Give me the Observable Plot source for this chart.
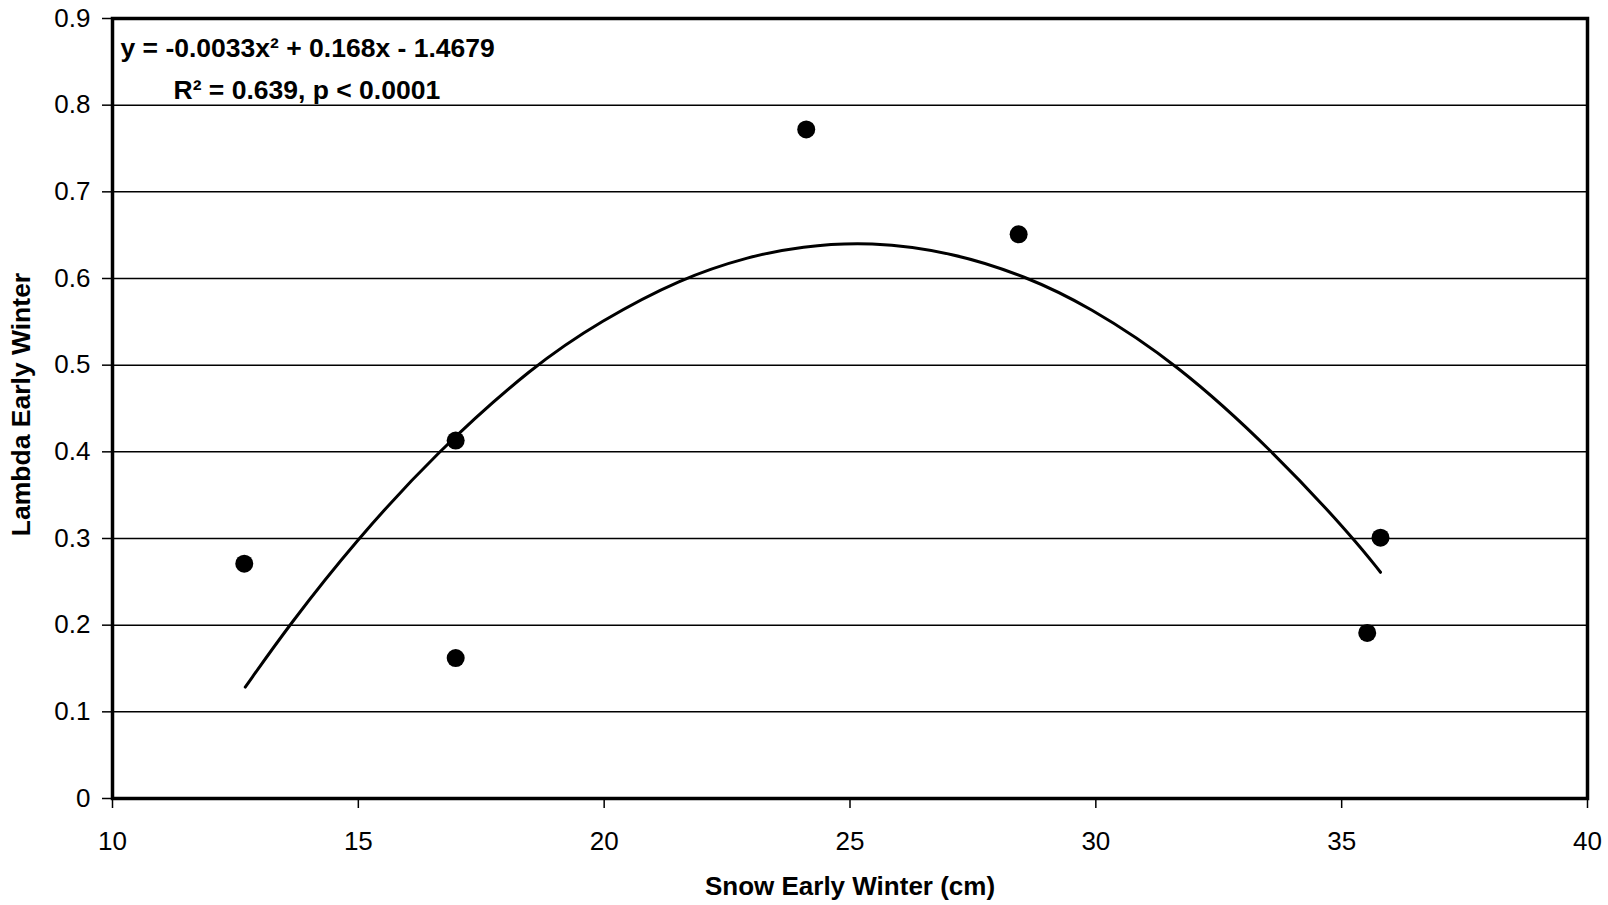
<!DOCTYPE html>
<html>
<head>
<meta charset="utf-8">
<script src="https://cdn.jsdelivr.net/npm/d3@7"></script>
<script src="https://cdn.jsdelivr.net/npm/@observablehq/plot@0.6"></script>
<style>
  html, body { margin: 0; padding: 0; background: #fff; }
  #chart { width: 1608px; height: 905px; }
</style>
</head>
<body>
<div id="chart"></div>
<script>
// Observed points
const snow = [12.68, 16.98, 16.98, 24.11, 28.43, 35.52, 35.79];
const lambda = [0.271, 0.162, 0.413, 0.772, 0.651, 0.191, 0.301];

// Trend line
const trendX = [12.70, 13.59, 14.94, 16.60, 18.57, 19.93, 21.55, 22.98, 23.99, 25.40, 27.11, 28.60, 29.82, 31.65, 33.62, 35.25, 35.79];
const trendY = [0.1285, 0.200, 0.297, 0.400, 0.500, 0.551, 0.600, 0.626, 0.637, 0.643, 0.630, 0.602, 0.569, 0.502, 0.400, 0.300, 0.261];

// Axes
const xTicks = [10, 15, 20, 25, 30, 35, 40];
const yTicks = [0, 0.1, 0.2, 0.3, 0.4, 0.5, 0.6, 0.7, 0.8, 0.9];
const yGrid = [0.1, 0.2, 0.3, 0.4, 0.5, 0.6, 0.7, 0.8];

// Texts
const xTitle = "Snow Early Winter (cm)";
const yTitle = "Lambda Early Winter";
const eqLine1 = "y = -0.0033x² + 0.168x - 1.4679";
const eqLine2 = "R² = 0.639, p < 0.0001";

const points = snow.map((s, i) => ({x: s, y: lambda[i]}));
const trend = trendX.map((s, i) => ({x: s, y: trendY[i]}));

const font = "Arial, 'Liberation Sans', sans-serif";

const chart = Plot.plot({
  width: 1608,
  height: 905,
  marginTop: 18,
  marginRight: 21,
  marginBottom: 107,
  marginLeft: 112,
  style: {fontFamily: font, fontSize: "26px", color: "#000", background: "#fff", overflow: "visible"},
  x: {domain: [10, 40], ticks: xTicks, tickSize: 10, tickPadding: 23, tickFormat: d => String(d), label: null},
  y: {domain: [0, 0.9], ticks: yTicks, tickSize: 10, tickPadding: 12, tickFormat: d => String(d), label: null},
  marks: [
    Plot.ruleY(yGrid, {stroke: "#000", strokeWidth: 1.5}),
    Plot.line(trend, {x: "x", y: "y", stroke: "#000", strokeWidth: 3, curve: "basis"}),
    Plot.dot(points, {x: "x", y: "y", r: 9, fill: "#000", stroke: "none"}),
    Plot.frame({stroke: "#000", strokeWidth: 3.5}),
    Plot.text([eqLine1], {text: d => d, frameAnchor: "top-left", dx: 8, dy: 30, textAnchor: "start", lineAnchor: "middle", fontWeight: "bold", fontSize: 26.5}),
    Plot.text([eqLine2], {text: d => d, frameAnchor: "top-left", dx: 61, dy: 72, textAnchor: "start", lineAnchor: "middle", fontWeight: "bold", fontSize: 26.5}),
    Plot.text([xTitle], {text: d => d, frameAnchor: "bottom", dy: 88, textAnchor: "middle", lineAnchor: "middle", fontWeight: "bold", fontSize: 26}),
    Plot.text([yTitle], {text: d => d, frameAnchor: "left", dx: -91, dy: -4, rotate: -90, textAnchor: "middle", lineAnchor: "middle", fontWeight: "bold", fontSize: 26.5})
  ]
});

document.getElementById("chart").appendChild(chart);

// Axis text sizes
d3.select(chart).selectAll('g[aria-label^="x-axis"]').attr("font-size", 26);
d3.select(chart).selectAll('g[aria-label^="y-axis"]').attr("font-size", 26);
d3.select(chart).selectAll('g[aria-label^="x-axis"] text').style("font-size", "26px");
d3.select(chart).selectAll('g[aria-label^="y-axis"] text').style("font-size", "26px");
d3.select(chart).selectAll('g[aria-label^="x-axis"] path, g[aria-label^="x-axis"] line, g[aria-label^="y-axis"] path, g[aria-label^="y-axis"] line')
  .attr("stroke-width", 1.5);
</script>
</body>
</html>
